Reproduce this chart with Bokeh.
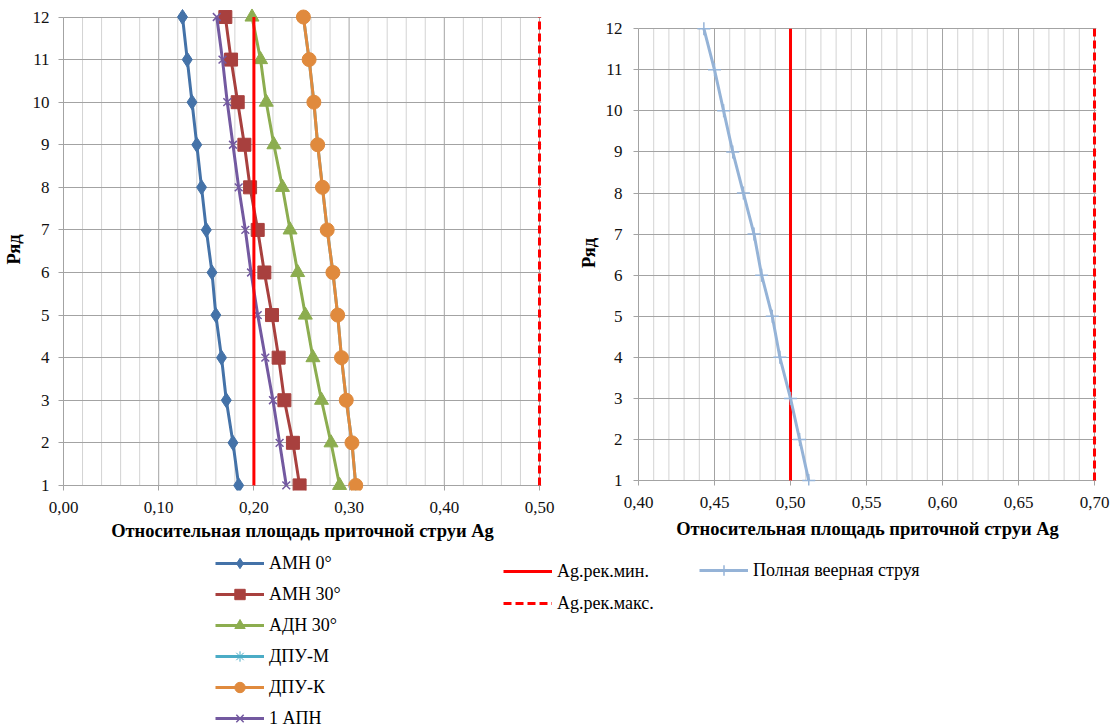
import numpy as np
from bokeh.plotting import figure
from bokeh.models import (Range1d, FixedTicker, CustomJSTickFormatter, Legend, LegendItem)
from bokeh.layouts import column, row
from bokeh.embed import file_html
from bokeh.resources import INLINE

# ---------------- data ----------------
rows = [1, 2, 3, 4, 5, 6, 7, 8, 9, 10, 11, 12]

amn0 = [0.184, 0.178, 0.171, 0.166, 0.160, 0.156, 0.150, 0.145, 0.140, 0.135, 0.130, 0.125]
amn30 = [0.248, 0.241, 0.232, 0.226, 0.219, 0.211, 0.204, 0.196, 0.190, 0.183, 0.176, 0.170]
adn30 = [0.290, 0.281, 0.271, 0.262, 0.254, 0.246, 0.238, 0.230, 0.221, 0.213, 0.207, 0.198]
dpu_m = [0.307, 0.303, 0.297, 0.292, 0.288, 0.283, 0.277, 0.272, 0.267, 0.263, 0.258, 0.252]
dpu_k = [0.307, 0.303, 0.297, 0.292, 0.288, 0.283, 0.277, 0.272, 0.267, 0.263, 0.258, 0.252]
apn1 = [0.234, 0.227, 0.220, 0.212, 0.204, 0.197, 0.191, 0.184, 0.178, 0.172, 0.167, 0.161]

full_fan = [0.512, 0.506, 0.500, 0.493, 0.488, 0.481, 0.476, 0.469, 0.462, 0.456, 0.450, 0.443]

ag_min_left, ag_max_left = 0.20, 0.50
ag_min_right, ag_max_right = 0.50, 0.70

left_ticks = [0.0, 0.1, 0.2, 0.3, 0.4, 0.5]
right_ticks = [0.40, 0.45, 0.50, 0.55, 0.60, 0.65, 0.70]

labels_left = ["АМН 0°", "АМН 30°", "АДН 30°", "ДПУ-М", "ДПУ-К", "1 АПН"]
label_min = "Ag.рек.мин."
label_max = "Ag.рек.макс."
label_fan = "Полная веерная струя"
x_title = "Относительная площадь приточной струи Ag"
y_title = "Ряд"

# ---------------- styles ----------------
FONT = "Liberation Serif"
TICK_FS = "17px"
TITLE_FS = "18.5px"
LEGEND_FS = "18px"
GRID_DARK = "#a3a3a3"
GRID_LIGHT = "#d3d3d3"
RED = "#ff0000"
series_styles = [
    dict(color="#4472a8", marker="diamond", size=15, line_w=1),
    dict(color="#a8403e", marker="square", size=13, line_w=1),
    dict(color="#8cad4f", marker="triangle", size=14, line_w=1),
    dict(color="#4bacc6", marker="asterisk", size=13, line_w=1),
    dict(color="#e08a3d", marker="circle", size=14, line_w=1),
    dict(color="#7359a0", marker="x", size=11, line_w=1.5),
]
FAN_COLOR = "#95b3d7"

fmt = CustomJSTickFormatter(code="return tick.toFixed(2).replace('.', ',');")


def style_axes(p, xticks, label_standoff_x, title_standoff_x, label_standoff_y, title_standoff_y):
    p.xaxis.ticker = FixedTicker(ticks=xticks)
    p.xaxis.formatter = fmt
    p.xaxis.axis_line_color = None
    p.xaxis.major_tick_in = 5
    p.xaxis.major_tick_out = 0
    p.xaxis.major_tick_line_color = GRID_DARK
    p.xaxis.minor_tick_line_color = None
    p.xaxis.major_label_standoff = label_standoff_x
    p.xaxis.axis_label = x_title
    p.xaxis.axis_label_standoff = title_standoff_x

    p.yaxis.ticker = FixedTicker(ticks=rows)
    p.yaxis.bounds = (rows[0], rows[-1])
    p.yaxis.axis_line_color = GRID_DARK
    p.yaxis.major_tick_in = 0
    p.yaxis.major_tick_out = 5
    p.yaxis.major_tick_line_color = GRID_DARK
    p.yaxis.minor_tick_line_color = None
    p.yaxis.major_label_standoff = label_standoff_y
    p.yaxis.axis_label = y_title
    p.yaxis.axis_label_standoff = title_standoff_y

    for ax in (p.xaxis, p.yaxis):
        ax.major_label_text_font = FONT
        ax.major_label_text_font_size = TICK_FS
        ax.major_label_text_color = "#111111"
        ax.axis_label_text_font = FONT
        ax.axis_label_text_font_size = TITLE_FS
        ax.axis_label_text_font_style = "bold"
        ax.axis_label_text_color = "#000000"

    p.xgrid.visible = False
    p.ygrid.ticker = FixedTicker(ticks=rows)
    p.ygrid.grid_line_color = GRID_DARK
    p.ygrid.grid_line_width = 1


def vertical_grid(p, major_ticks, minor_step):
    lo, hi = major_ticks[0], major_ticks[-1]
    minor = np.round(np.arange(lo, hi + minor_step / 2, minor_step), 4)
    minor = [m for m in minor if not np.any(np.isclose(m, major_ticks))]
    n = len(minor)
    p.segment(x0=minor, y0=[rows[0]] * n, x1=minor, y1=[rows[-1]] * n,
              line_color=GRID_LIGHT, line_width=1, level="underlay")
    m = len(major_ticks)
    p.segment(x0=major_ticks, y0=[rows[0]] * m, x1=major_ticks, y1=[rows[-1]] * m,
              line_color=GRID_DARK, line_width=1, level="underlay")


common = dict(toolbar_location=None, output_backend="svg", outline_line_color=None,
              background_fill_color="white", border_fill_color="white")

# ---------------- left chart ----------------
p1 = figure(width=573, height=548, x_range=Range1d(0.0, 0.5021), y_range=Range1d(0.88, 12.2),
            min_border_left=63, min_border_right=32, min_border_top=8, min_border_bottom=58, **common)
style_axes(p1, left_ticks, 11, 5, 9, 6)
vertical_grid(p1, left_ticks, 0.02)

for vals, st in zip([amn0, amn30, adn30, dpu_m, dpu_k, apn1], series_styles):
    p1.line(vals, rows, line_color=st["color"], line_width=3)
    p1.scatter(vals, rows, marker=st["marker"], size=st["size"], fill_color=st["color"],
               line_color=st["color"], line_width=st["line_w"])

p1.line([ag_min_left, ag_min_left], [rows[0], rows[-1]], line_color=RED, line_width=3)
p1.line([ag_max_left, ag_max_left], [rows[0], rows[-1]], line_color=RED, line_width=3, line_dash="8 4")

# ---------------- right chart ----------------
p2 = figure(width=542, height=548, x_range=Range1d(0.40, 0.7013), y_range=Range1d(0.88, 12.2),
            min_border_left=65, min_border_right=19, min_border_top=20, min_border_bottom=63, **common)
style_axes(p2, right_ticks, 11, 8, 11, 4)
vertical_grid(p2, right_ticks, 0.01)

p2.line([ag_min_right, ag_min_right], [rows[0], rows[-1]], line_color=RED, line_width=3)
p2.line([ag_max_right, ag_max_right], [rows[0], rows[-1]], line_color=RED, line_width=3, line_dash="8 4")
p2.line(full_fan, rows, line_color=FAN_COLOR, line_width=3)
p2.scatter(full_fan, rows, marker="cross", size=13, line_color=FAN_COLOR, line_width=1.5)

# ---------------- legends (separate strip; the data lie outside its visible ranges) ----------------
pl = figure(width=1115, height=180, x_range=Range1d(5, 6), y_range=Range1d(50, 60),
            x_axis_location=None, y_axis_location=None, min_border=0, **common)
pl.grid.visible = False

items1 = []
for lab, vals, st in zip(labels_left, [amn0, amn30, adn30, dpu_m, dpu_k, apn1], series_styles):
    lr = pl.line(vals, rows, line_color=st["color"], line_width=3)
    sr = pl.scatter(vals, rows, marker=st["marker"], size=st["size"], fill_color=st["color"],
                    line_color=st["color"], line_width=st["line_w"])
    items1.append(LegendItem(label=lab, renderers=[lr, sr]))

r_min = pl.line([ag_min_left, ag_min_left], [rows[0], rows[-1]], line_color=RED, line_width=3)
r_max = pl.line([ag_max_left, ag_max_left], [rows[0], rows[-1]], line_color=RED, line_width=3,
                line_dash="8 4")
r_fan_l = pl.line(full_fan, rows, line_color=FAN_COLOR, line_width=3)
r_fan_s = pl.scatter(full_fan, rows, marker="cross", size=13, line_color=FAN_COLOR, line_width=1.5)


def make_legend(items, loc, spacing):
    lg = Legend(items=items, location=loc, orientation="vertical", glyph_width=49, glyph_height=26,
                label_height=20, spacing=spacing, padding=0, margin=0, label_standoff=5,
                border_line_color=None, background_fill_alpha=0,
                label_text_font=FONT, label_text_font_size=LEGEND_FS, label_text_color="#000000")
    pl.add_layout(lg, "center")
    return lg


make_legend(items1, (215, -3), 5)
make_legend([LegendItem(label=label_min, renderers=[r_min]),
             LegendItem(label=label_max, renderers=[r_max])], (503, 112), 6)
make_legend([LegendItem(label=label_fan, renderers=[r_fan_l, r_fan_s])], (699, 145), 0)

layout = column(row(column(p1), column(p2)), pl)
open("out.html", "w").write(file_html(layout, INLINE))
